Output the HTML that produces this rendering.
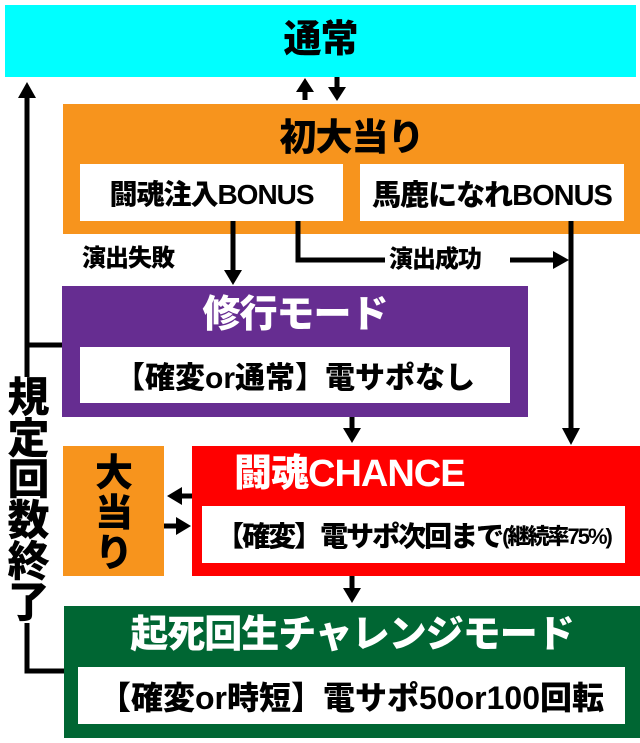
<!DOCTYPE html>
<html><head><meta charset="utf-8"><style>
body{margin:0;width:640px;height:743px;background:#fff;position:relative;overflow:hidden;font-family:"Liberation Sans","Noto Sans CJK JP",sans-serif;font-weight:900}
.b{position:absolute;box-sizing:border-box}
.t{position:absolute;white-space:nowrap;text-align:center;line-height:1;font-weight:900;letter-spacing:-1px}
.w{background:#fff;display:flex;align-items:center;justify-content:center;color:#000}
</style></head><body>
<div class="b" style="left:5px;top:5px;width:631px;height:72px;background:#00ffff"></div>
<div class="t" style="left:5px;top:21px;width:631px;font-size:38px;color:#000">通常</div>

<div class="b" style="left:63px;top:104px;width:577px;height:130px;background:#f7941d"></div>
<div class="t" style="left:63px;top:119px;width:577px;font-size:37px;color:#000">初大当り</div>
<div class="b w" style="left:80px;top:164px;width:263px;height:57px;font-size:28px;letter-spacing:-1px">闘魂注入BONUS</div>
<div class="b w" style="left:360px;top:164px;width:264px;height:57px;font-size:29px;letter-spacing:-1px">馬鹿になれBONUS</div>

<div class="b" style="left:62px;top:286px;width:466px;height:131px;background:#662d91"></div>
<div class="t" style="left:62px;top:296px;width:466px;font-size:38px;color:#fff">修行モード</div>
<div class="b w" style="left:80px;top:347px;width:430px;height:56px;font-size:30px">【確変or通常】電サポなし</div>

<div class="b" style="left:63px;top:446px;width:101px;height:130px;background:#f7941d"></div>
<div class="t" style="left:63px;top:454px;width:101px;font-size:38px;line-height:40px;color:#000">大<br>当<br>り</div>

<div class="b" style="left:192px;top:446px;width:448px;height:130px;background:#ff0000"></div>
<div class="t" style="left:234px;top:455px;font-size:38px;color:#fff">闘魂CHANCE</div>
<div class="b w" style="left:202px;top:506px;width:423px;height:57px;font-size:28px;letter-spacing:-2px">【確変】電サポ次回まで<span style="font-size:22px">(継続率75%)</span></div>

<div class="b" style="left:64px;top:606px;width:576px;height:132px;background:#006633"></div>
<div class="t" style="left:64px;top:616px;width:576px;font-size:38px;color:#fff">起死回生チャレンジモード</div>
<div class="b w" style="left:78px;top:667px;width:547px;height:57px;font-size:32px">【確変or時短】電サポ50or100回転</div>

<div class="t" style="left:82px;top:247px;font-size:24px;color:#000">演出失敗</div>

<svg class="b" style="left:0;top:0" width="640" height="743">
<g stroke="#000" stroke-width="5" fill="none">
<line x1="305" y1="100" x2="305" y2="88"/>
<line x1="337" y1="77" x2="337" y2="90"/>
<line x1="233" y1="221" x2="233" y2="272"/>
<polyline points="298,221 298,260 385,260"/>
<line x1="510" y1="260" x2="555" y2="260"/>
<line x1="571" y1="221" x2="571" y2="430"/>
<line x1="352" y1="417" x2="352" y2="430"/>
<line x1="352" y1="576" x2="352" y2="590"/>
<line x1="192" y1="496" x2="180" y2="496"/>
<line x1="164" y1="526" x2="178" y2="526"/>
<polyline points="62,345 27,345 27,95"/>
<polyline points="64,671 27,671 27,345"/>
</g>
<g fill="#000">
<polygon points="296,92 314,92 305,78"/>
<polygon points="328,87 346,87 337,101"/>
<polygon points="224,270 242,270 233,285"/>
<polygon points="553,251 553,269 569,260"/>
<polygon points="562,428 580,428 571,445"/>
<polygon points="343,428 361,428 352,443"/>
<polygon points="343,588 361,588 352,603"/>
<polygon points="182,487 182,505 167,496"/>
<polygon points="176,517 176,535 191,526"/>
<polygon points="18,98 36,98 27,82"/>
</g>
</svg>
<div class="t" style="left:389px;top:248px;font-size:24px;color:#000;background:#fff">演出成功</div>
<div class="t" style="left:3px;top:377px;width:50px;font-size:42px;line-height:41px;color:#000;background:#fff">規<br>定<br>回<br>数<br>終<br>了</div>
</body></html>
